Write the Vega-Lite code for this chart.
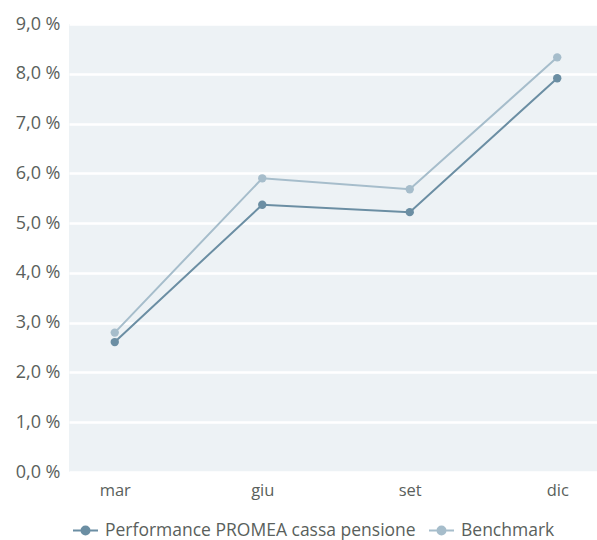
{
  "$schema": "https://vega.github.io/schema/vega-lite/v6.json",
  "autosize": "none",
  "width": 528,
  "height": 448,
  "padding": {"left": 69, "top": 24, "right": 0, "bottom": 68},
  "background": "white",
  "config": {
    "font": "Open Sans",
    "view": {"fill": "#edf2f5", "stroke": null},
    "axis": {"domain": false, "ticks": false, "labelColor": "#5a5f5c", "labelFontSize": 18, "labelFont": "Open Sans", "title": null}
  },
  "data": {
    "values": [
      {"mese": "mar", "serie": "Performance PROMEA cassa pensione", "valore": 2.61},
      {"mese": "giu", "serie": "Performance PROMEA cassa pensione", "valore": 5.37},
      {"mese": "set", "serie": "Performance PROMEA cassa pensione", "valore": 5.22},
      {"mese": "dic", "serie": "Performance PROMEA cassa pensione", "valore": 7.91},
      {"mese": "mar", "serie": "Benchmark", "valore": 2.80},
      {"mese": "giu", "serie": "Benchmark", "valore": 5.90},
      {"mese": "set", "serie": "Benchmark", "valore": 5.68},
      {"mese": "dic", "serie": "Benchmark", "valore": 8.33}
    ]
  },
  "encoding": {
    "x": {
      "field": "mese", "type": "ordinal", "sort": ["mar", "giu", "set", "dic"],
      "scale": {"type": "point", "padding": 0.29, "align": 0.535},
      "axis": {"labelAngle": 0, "labelPadding": 10, "grid": false, "labelFontSize": 16.5}
    },
    "y": {
      "field": "valore", "type": "quantitative",
      "scale": {"domain": [0, 9], "nice": false, "zero": true},
      "axis": {"values": [0,1,2,3,4,5,6,7,8,9], "grid": true, "gridColor": "white", "gridWidth": 2.5, "gridOpacity": 1, "labelPadding": 9,
        "labelExpr": "replace(format(datum.value, '.1f'), '.', ',') + ' %'"}
    },
    "color": {
      "field": "serie", "type": "nominal",
      "scale": {"domain": ["Performance PROMEA cassa pensione", "Benchmark"], "range": ["#6b8ea3", "#a6bdcb"]},
      "legend": {
        "title": null, "orient": "none", "legendX": 3, "legendY": 493, "direction": "horizontal",
        "labelFontSize": 17.5, "labelColor": "#5a5f5c", "labelFont": "Open Sans", "labelLimit": 500,
        "symbolType": "M-1,0L1,0M-0.32,0A0.32,0.32 0 1,0 0.32,0A0.32,0.32 0 1,0 -0.32,0",
        "symbolSize": 625, "symbolStrokeWidth": 2, "columnPadding": 9, "labelOffset": 6
      }
    }
  },
  "layer": [
    {"mark": {"type": "line", "strokeWidth": 2}},
    {"mark": {"type": "point", "filled": true, "size": 70, "opacity": 1}}
  ]
}
